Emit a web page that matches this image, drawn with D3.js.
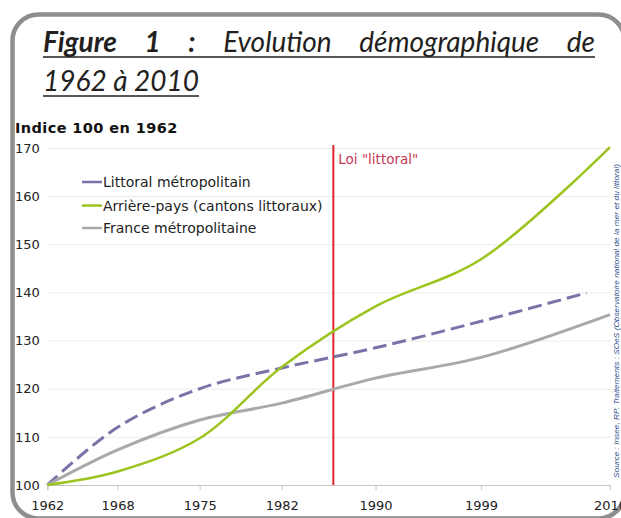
<!DOCTYPE html>
<html>
<head>
<meta charset="utf-8">
<script src="https://cdn.jsdelivr.net/npm/d3@7"></script>
<style>
  body { margin: 0; background: #fff; }
  svg { display: block; }
</style>
</head>
<body>
<div id="chart"></div>
<script>
// census years and the index values (100 in 1962)
var years = [1962, 1968, 1975, 1982, 1990, 1999, 2010];
var littoralYears = [1962, 1968, 1975, 1982, 1990, 1999, 2008];
var littoral = [100, 112, 120, 124.3, 128.5, 134, 139.9];
var arrierePays = [100, 102.8, 109.7, 124.5, 137.1, 146.9, 170.2];
var france = [100, 107.3, 113.5, 117, 122.2, 126.5, 135.4];
var yTicks = [100, 110, 120, 130, 140, 150, 160, 170];
var seriesNames = ["Littoral métropolitain", "Arrière-pays (cantons littoraux)", "France métropolitaine"];
var titleLine1 = ["Figure", "1", ":", "Evolution", "démographique", "de"];
var titleLine2 = "1962 à 2010";
var loiYear = 1986.4;

var w = 621, h = 518;
var colors = ["#7a73a8", "#9cc41f", "#a9a9a9"];

var svg = d3.select("#chart").append("svg")
    .attr("width", w)
    .attr("height", h)
    .style("background", "#fff");

// rounded frame
svg.append("rect")
    .attr("x", 12.5).attr("y", 14.5)
    .attr("width", 612).attr("height", 504)
    .attr("rx", 26).attr("ry", 26)
    .attr("fill", "none")
    .attr("stroke", "#8e8e8e")
    .attr("stroke-width", 4.5);

// title, justified on the first line
var titleFont = "Lato, 'Open Sans', sans-serif";
var tLeft = 43, tRight = 595;
var words = svg.append("g").selectAll("text")
    .data(titleLine1)
    .enter().append("text")
    .attr("y", 52)
    .style("font-family", titleFont)
    .style("font-size", "28px")
    .style("font-style", "italic")
    .style("font-weight", (d, i) => i < 3 ? 700 : 400)
    .style("fill", "#231f20")
    .text(d => d);
var widths = [];
words.each(function () { widths.push(this.getComputedTextLength()); });
var gap = (tRight - tLeft - d3.sum(widths)) / (titleLine1.length - 1);
var pos = tLeft;
words.attr("x", function (d, i) {
    var p = pos;
    pos += widths[i] + gap;
    return p;
});
svg.append("line")
    .attr("x1", tLeft).attr("x2", tRight)
    .attr("y1", 57).attr("y2", 57)
    .attr("stroke", "#231f20").attr("stroke-width", 1.5);

var t2 = svg.append("text")
    .attr("x", tLeft).attr("y", 91)
    .style("font-family", titleFont)
    .style("font-size", "28px")
    .style("font-style", "italic")
    .style("fill", "#231f20")
    .text(titleLine2);
svg.append("line")
    .attr("x1", tLeft).attr("x2", tLeft + t2.node().getComputedTextLength())
    .attr("y1", 96).attr("y2", 96)
    .attr("stroke", "#231f20").attr("stroke-width", 1.5);

// chart
var labelFont = "'DejaVu Sans', Verdana, sans-serif";
var x = d3.scaleLinear().domain([1962, 2010]).range([47.3, 610]);
var y = d3.scaleLinear().domain([100, 170]).range([485, 148]);

svg.append("text")
    .attr("x", 15).attr("y", 133)
    .style("font-family", labelFont)
    .style("font-size", "14.5px")
    .style("font-weight", "bold")
    .style("letter-spacing", "0.4px")
    .style("fill", "#111")
    .text("Indice 100 en 1962");

// y grid + labels
var yAxis = svg.append("g")
    .attr("transform", "translate(" + x.range()[0] + ",0)")
    .call(d3.axisLeft(y).tickValues(yTicks).tickSize(-(x.range()[1] - x.range()[0])).tickFormat(d3.format("d")));
yAxis.select(".domain").remove();
yAxis.selectAll(".tick line").attr("stroke", "#ebebeb");
yAxis.selectAll(".tick text")
    .attr("x", 15 - x.range()[0])
    .attr("text-anchor", "start")
    .style("font-family", labelFont)
    .style("font-size", "13px")
    .style("fill", "#222");

// x axis
var xAxis = svg.append("g")
    .attr("transform", "translate(0," + y(100) + ")")
    .call(d3.axisBottom(x).tickValues(years).tickFormat(d3.format("d")).tickSize(5).tickPadding(11));
xAxis.select(".domain").attr("stroke", "#c6c6c6");
xAxis.selectAll(".tick line").attr("stroke", "#c6c6c6");
xAxis.selectAll(".tick text")
    .style("font-family", labelFont)
    .style("font-size", "13px")
    .style("fill", "#222");

// Loi littoral marker
svg.append("line")
    .attr("x1", x(loiYear)).attr("x2", x(loiYear))
    .attr("y1", 145).attr("y2", y(100))
    .attr("stroke", "#e3262b").attr("stroke-width", 2);
svg.append("text")
    .attr("x", x(loiYear) + 5).attr("y", 164)
    .style("font-family", labelFont)
    .style("font-size", "13.5px")
    .style("fill", "#c23a55")
    .text('Loi "littoral"');

// series
var line = d3.line()
    .x(d => x(d[0]))
    .y(d => y(d[1]))
    .curve(d3.curveCatmullRom.alpha(0.5));

var series = [
    { name: seriesNames[0], pts: d3.zip(littoralYears, littoral), color: colors[0], width: 3, dash: "14,6" },
    { name: seriesNames[2], pts: d3.zip(years, france), color: colors[2], width: 3, dash: null },
    { name: seriesNames[1], pts: d3.zip(years, arrierePays), color: colors[1], width: 2.5, dash: null }
];
svg.append("g").selectAll("path")
    .data(series)
    .enter().append("path")
    .attr("d", d => line(d.pts))
    .attr("fill", "none")
    .attr("stroke", d => d.color)
    .attr("stroke-width", d => d.width)
    .attr("stroke-dasharray", d => d.dash)
    .attr("stroke-linecap", "butt");

// legend
var legendY = [182, 205.5, 228];
var legend = svg.append("g").selectAll("g")
    .data(seriesNames)
    .enter().append("g")
    .attr("transform", (d, i) => "translate(82," + legendY[i] + ")");
legend.append("line")
    .attr("x1", 0).attr("x2", 20)
    .attr("stroke", (d, i) => colors[i])
    .attr("stroke-width", 2.5);
legend.append("text")
    .attr("x", 21).attr("dy", "0.36em")
    .style("font-family", labelFont)
    .style("font-size", "14px")
    .style("fill", "#222")
    .text(d => d);

// source, written vertically on the right edge
svg.append("text")
    .attr("transform", "translate(619,478) rotate(-90)")
    .attr("textLength", 314)
    .attr("lengthAdjust", "spacingAndGlyphs")
    .style("font-family", "'Liberation Sans', Arial, sans-serif")
    .style("font-size", "8px")
    .style("font-style", "italic")
    .style("fill", "#2d4f8e")
    .text("Source : Insee, RP. Traitements : SOeS (Observatoire national de la mer et du littoral)");
</script>
</body>
</html>
